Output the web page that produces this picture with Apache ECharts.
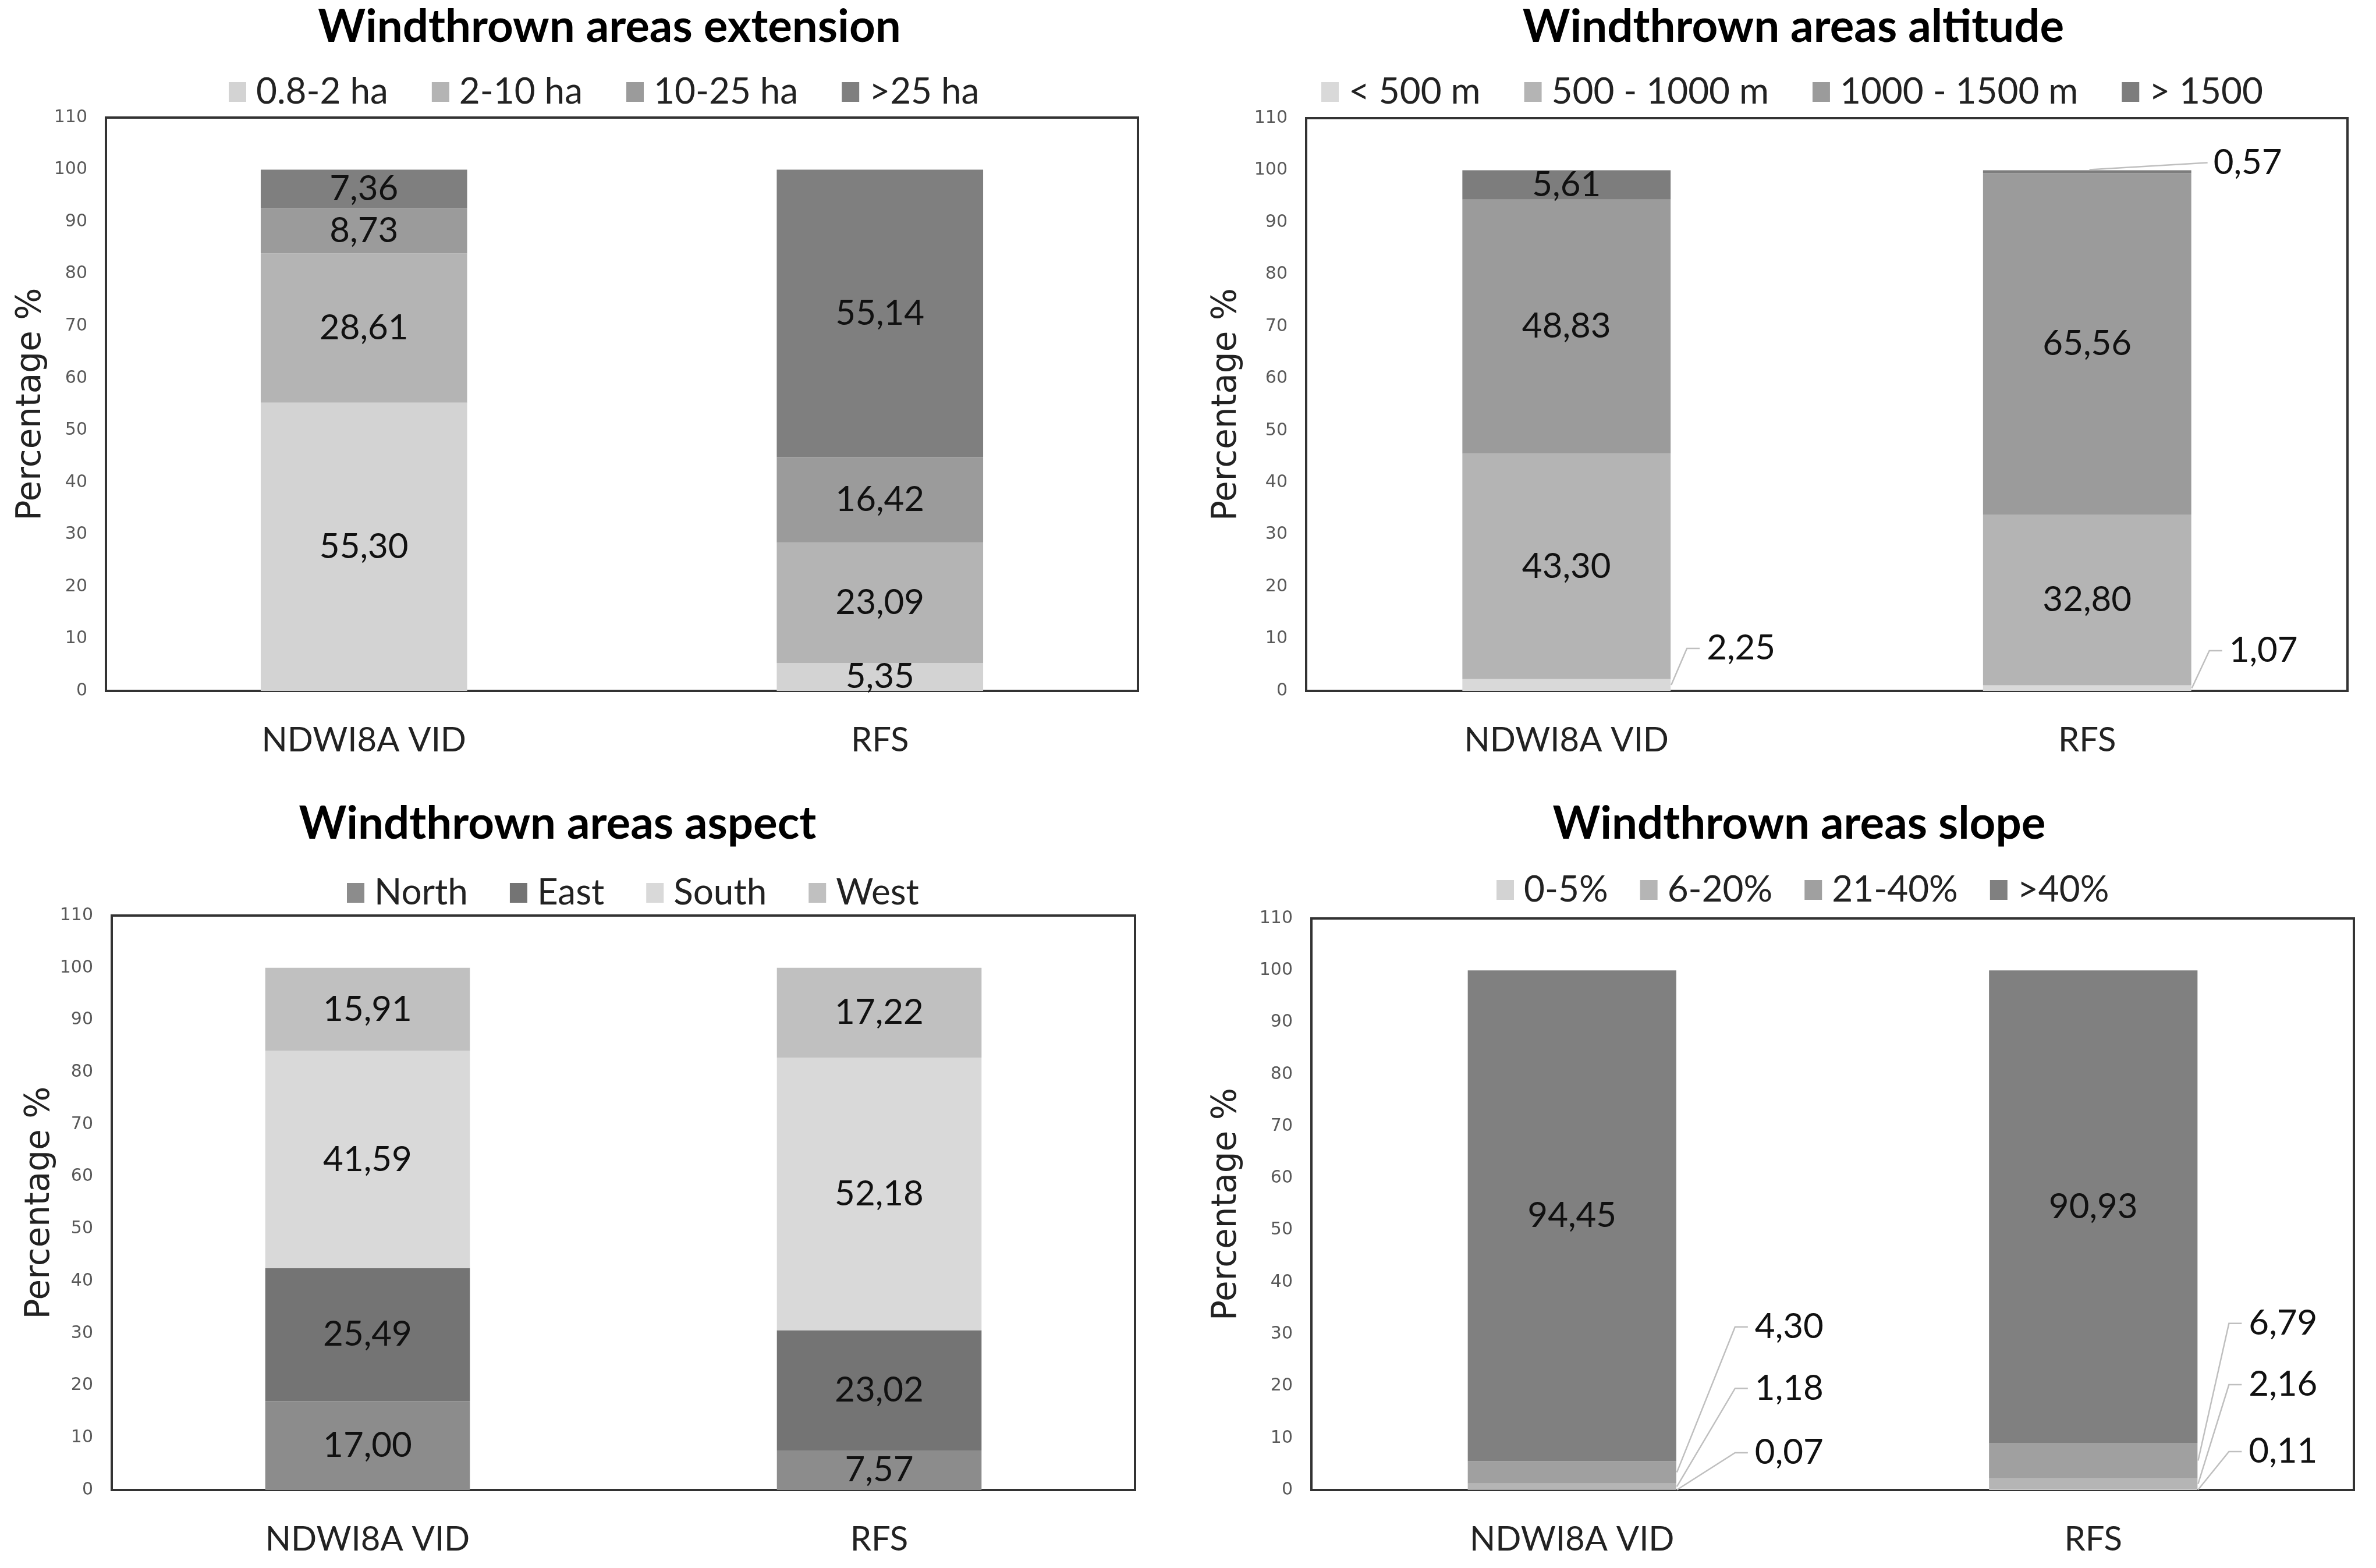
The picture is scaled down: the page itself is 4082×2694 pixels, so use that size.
<!DOCTYPE html>
<html><head><meta charset="utf-8">
<script src="https://cdn.jsdelivr.net/npm/echarts@6/dist/echarts.min.js"></script>
<style>html,body{margin:0;padding:0;background:#fff}#c{width:4082px;height:2694px}</style>
</head><body><div id="c"></div>
<script>
// ---- data ----
const categories = ['NDWI8A VID', 'RFS'];
const yMin = 0, yMax = 110, yInterval = 10;

const extensionNames = ['0.8-2 ha', '2-10 ha', '10-25 ha', '>25 ha'];
const ext_08_2 = [55.30, 5.35];
const ext_2_10 = [28.61, 23.09];
const ext_10_25 = [8.73, 16.42];
const ext_gt25 = [7.36, 55.14];

const altitudeNames = ['< 500 m', '500 - 1000 m', '1000 - 1500 m', '> 1500'];
const alt_lt500 = [2.25, 1.07];
const alt_500_1000 = [43.30, 32.80];
const alt_1000_1500 = [48.83, 65.56];
const alt_gt1500 = [5.61, 0.57];

const aspectNames = ['North', 'East', 'South', 'West'];
const asp_north = [17.00, 7.57];
const asp_east = [25.49, 23.02];
const asp_south = [41.59, 52.18];
const asp_west = [15.91, 17.22];

const slopeNames = ['0-5%', '6-20%', '21-40%', '>40%'];
const slp_0_5 = [0.07, 0.11];
const slp_6_20 = [1.18, 2.16];
const slp_21_40 = [4.30, 6.79];
const slp_gt40 = [94.45, 90.93];

// ---- panel styling / layout ----
const BAR_FRAC = 0.4;
const panels = [
  { title: 'Windthrown areas extension', names: extensionNames,
    values: [ext_08_2, ext_2_10, ext_10_25, ext_gt25],
    colors: ['#d3d3d3', '#b4b4b4', '#9b9b9b', '#7f7f7f'],
    grid: { left: 182, top: 202, width: 1773, height: 985 },
    titlePos: [1047, 47], legendPos: [393, 163], itemGap: 75, nameGap: 99, leaders: [] },
  { title: 'Windthrown areas altitude', names: altitudeNames,
    values: [alt_lt500, alt_500_1000, alt_1000_1500, alt_gt1500],
    colors: ['#d9d9d9', '#b4b4b4', '#9b9b9b', '#7d7d7d'],
    grid: { left: 2244, top: 203, width: 1789, height: 984 },
    titlePos: [3081, 47], legendPos: [2270, 163], itemGap: 75, nameGap: 107,
    leaders: [ { s: 0, c: 0, dx: 62, up: 73 }, { s: 0, c: 1, dx: 65, up: 69 },
               { s: 3, c: 1, dx: 38, up: 13, top: true } ] },
  { title: 'Windthrown areas aspect', names: aspectNames,
    values: [asp_north, asp_east, asp_south, asp_west],
    colors: ['#8c8c8c', '#747474', '#d9d9d9', '#c0c0c0'],
    grid: { left: 192, top: 1573, width: 1758, height: 987 },
    titlePos: [958, 1416], legendPos: [596, 1539], itemGap: 72, nameGap: 94, leaders: [] },
  { title: 'Windthrown areas slope', names: slopeNames,
    values: [slp_0_5, slp_6_20, slp_21_40, slp_gt40],
    colors: ['#d3d3d3', '#b5b5b5', '#a0a0a0', '#808080'],
    grid: { left: 2253, top: 1578, width: 1791, height: 982 },
    titlePos: [3091, 1416], legendPos: [2571, 1534], itemGap: 55, nameGap: 116,
    leaders: [ { s: 0, c: 0, dx: 135, up: 64 }, { s: 0, c: 1, dx: 88, up: 66 },
               { s: 1, c: 0, dx: 135, up: 174 }, { s: 1, c: 1, dx: 88, up: 180 },
               { s: 2, c: 0, dx: 135, up: 269 }, { s: 2, c: 1, dx: 88, up: 266 } ] }
];

const fmt = v => v.toFixed(2).replace('.', ',');
const FONT = 'Lato';
const LEADER_STYLE = { stroke: '#bfbfbf', lineWidth: 2.5, fill: null };

const option = {
  animation: false,
  backgroundColor: '#ffffff',
  title: [], legend: [], grid: [], xAxis: [], yAxis: [], series: []
};

panels.forEach((pn, gi) => {
  option.title.push({
    text: pn.title, left: pn.titlePos[0], top: pn.titlePos[1],
    textAlign: 'center', textVerticalAlign: 'middle', padding: 0,
    textStyle: { fontFamily: FONT, fontWeight: 'bold', fontSize: 78, color: '#000' }
  });
  option.legend.push({
    data: pn.names, left: pn.legendPos[0], top: pn.legendPos[1] - 36, padding: 0,
    orient: 'horizontal', icon: 'rect', itemWidth: 30, itemHeight: 34, itemGap: pn.itemGap,
    selectedMode: false,
    textStyle: { fontFamily: FONT, fontSize: 62, color: '#222', padding: [0, 0, 0, 12] }
  });
  option.grid.push(Object.assign({ show: true, borderColor: '#333', borderWidth: 4,
    backgroundColor: 'transparent', containLabel: false }, pn.grid));
  option.xAxis.push({
    type: 'category', gridIndex: gi, data: categories,
    axisLine: { lineStyle: { color: '#333', width: 4 } },
    axisTick: { alignWithLabel: true, length: 17, lineStyle: { color: '#333', width: 4 } },
    axisLabel: { fontFamily: FONT, fontSize: 58, color: '#222', margin: 56 }
  });
  option.yAxis.push({
    type: 'value', gridIndex: gi, min: yMin, max: yMax, interval: yInterval,
    splitLine: { show: false }, axisLine: { show: false }, axisTick: { show: false },
    axisLabel: { fontFamily: 'DejaVu Sans', fontSize: 30, color: '#595959', margin: 32 },
    name: 'Percentage %', nameLocation: 'middle', nameGap: pn.nameGap,
    nameTextStyle: { fontFamily: 'DejaVu Sans', fontSize: 58, color: '#222' }
  });

  const leaderOf = (s, c) => pn.leaders.find(L => L.s === s && L.c === c);

  pn.names.forEach((nm, si) => {
    const vals = pn.values[si];
    const hasLeader = pn.leaders.some(L => L.s === si);
    const s = {
      type: 'bar', name: nm, xAxisIndex: gi, yAxisIndex: gi, stack: 'st' + gi,
      barWidth: (BAR_FRAC * 100) + '%', data: vals.slice(),
      itemStyle: { color: pn.colors[si] },
      label: { show: true, position: 'inside', fontFamily: FONT, fontSize: 60, color: '#111',
               formatter: p => fmt(p.value) },
      emphasis: { disabled: true }
    };
    if (hasLeader) {
      s.labelLayout = function (p) {
        const L = leaderOf(si, p.dataIndex);
        if (!L) return {};
        const x = p.rect.x + p.rect.width + L.dx;
        const y = L.top ? p.rect.y - L.up : p.rect.y + p.rect.height - L.up;
        return { x: x, y: y, align: 'left', verticalAlign: 'middle' };
      };
    }
    option.series.push(s);
  });

  if (pn.leaders.length) {
    // leader lines drawn through the axes' own scales
    const leaderData = pn.leaders.map((L, k) => {
      let base = 0;
      for (let i = 0; i < L.s; i++) base += pn.values[i][L.c];
      return [L.c, base, base + pn.values[L.s][L.c], k];
    });
    option.series.push({
      type: 'custom', name: 'leaders' + gi, xAxisIndex: gi, yAxisIndex: gi,
      silent: true, z: 5, data: leaderData,
      dimensions: ['cat', 'base', 'top', 'k'],
      encode: { x: 0, y: 2 },
      renderItem: function (params, api) {
        const c = api.value(0), base = api.value(1), topv = api.value(2), k = api.value(3);
        const L = pn.leaders[k];
        const cx = api.coord([c, 0])[0];
        const bw = api.size([1, 0])[0] * BAR_FRAC;
        const right = cx + bw / 2;
        const yb = api.coord([c, base])[1];
        const yt = api.coord([c, topv])[1];
        const lx = right + L.dx;
        let pts;
        if (L.top) {
          const ly = yt - L.up;
          pts = [[right - 175, yt - 1], [lx - 10, ly]];
        } else {
          const ly = yb - L.up;
          pts = [[right + 1, (yb + yt) / 2], [lx - 34, ly], [lx - 12, ly]];
        }
        return { type: 'polyline', shape: { points: pts }, style: LEADER_STYLE };
      }
    });
  }
});

const chart = echarts.init(document.getElementById('c'), null, { renderer: 'canvas' });
chart.setOption(option);
</script></body></html>
